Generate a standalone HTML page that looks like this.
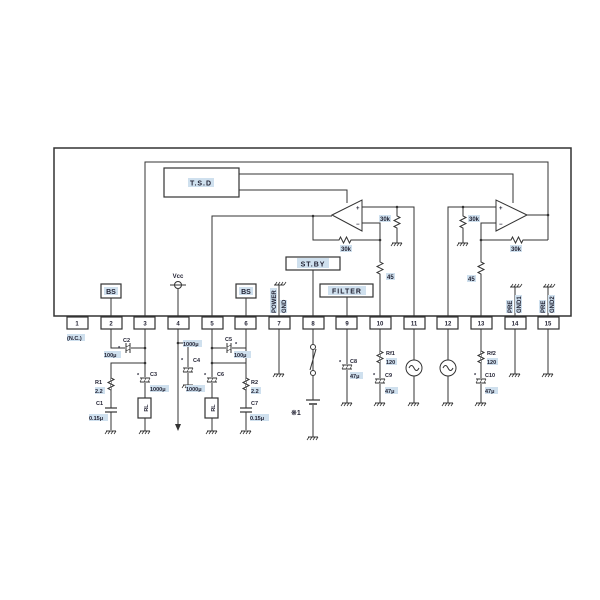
<!DOCTYPE html>
<html><head><meta charset="utf-8"><style>
html,body{margin:0;padding:0;background:#fff;}
svg{display:block;}
text{font-family:"Liberation Sans",sans-serif;fill:#223;}
.hl{fill:#cfe0ee;}
</style></head><body>
<svg width="600" height="600" viewBox="0 0 600 600" xmlns="http://www.w3.org/2000/svg">
<defs>
<g id="gnd"><line x1="-5" y1="0" x2="5" y2="0" stroke="#333" stroke-width="1"/><line x1="-4" y1="0" x2="-6" y2="3" stroke="#333" stroke-width="0.8"/><line x1="-1" y1="0" x2="-3" y2="3" stroke="#333" stroke-width="0.8"/><line x1="2" y1="0" x2="0" y2="3" stroke="#333" stroke-width="0.8"/><line x1="5" y1="0" x2="3" y2="3" stroke="#333" stroke-width="0.8"/></g>
<g id="gndu"><line x1="-5" y1="0" x2="5" y2="0" stroke="#333" stroke-width="1"/><line x1="-4" y1="0" x2="-2" y2="-3" stroke="#333" stroke-width="0.8"/><line x1="-1" y1="0" x2="1" y2="-3" stroke="#333" stroke-width="0.8"/><line x1="2" y1="0" x2="4" y2="-3" stroke="#333" stroke-width="0.8"/><line x1="5" y1="0" x2="7" y2="-3" stroke="#333" stroke-width="0.8"/></g>
<g id="resv"><polyline points="0,-8 0,-6 3,-4.5 -3,-1.5 3,1.5 -3,4.5 0,6 0,8" fill="#fff" stroke="#333" stroke-width="1"/></g>
<g id="resh"><polyline points="-8,0 -6,0 -4.5,-3 -1.5,3 1.5,-3 4.5,3 6,0 8,0" fill="#fff" stroke="#333" stroke-width="1"/></g>
<g id="ecap"><rect x="-6" y="-3" width="12" height="6" fill="#fff"/><line x1="-5" y1="-2" x2="5" y2="-2" stroke="#333"/><line x1="-5" y1="2" x2="5" y2="2" stroke="#333"/><line x1="-5" y1="2" x2="-3" y2="-2" stroke="#333" stroke-width="0.6"/><line x1="-1" y1="2" x2="1" y2="-2" stroke="#333" stroke-width="0.6"/><line x1="3" y1="2" x2="5" y2="-2" stroke="#333" stroke-width="0.6"/></g>
<g id="capv"><rect x="-6" y="-2" width="12" height="4" fill="#fff"/><line x1="-6" y1="-2" x2="6" y2="-2" stroke="#333" stroke-width="1.2"/><line x1="-6" y1="2" x2="6" y2="2" stroke="#333" stroke-width="1.2"/></g>
<g id="capeh"><rect x="-3" y="-6" width="6" height="12" fill="#fff"/><line x1="-2" y1="-5" x2="-2" y2="5" stroke="#333"/><line x1="2" y1="-5" x2="2" y2="5" stroke="#333"/><line x1="-2" y1="3" x2="2" y2="1" stroke="#333" stroke-width="0.6"/><line x1="-2" y1="-1" x2="2" y2="-3" stroke="#333" stroke-width="0.6"/></g>
</defs>
<g stroke="#333" stroke-width="1" fill="none">
<rect x="54" y="148" width="517" height="168" stroke-width="1.5"/>
<rect x="164" y="168" width="75" height="29" stroke-width="1.2"/>
<polyline points="145,316 145,162 548,162 548,240"/>
<polyline points="239,174 513,174 513,203"/>
<polyline points="239,190 347,190 347,203"/>
<polygon points="332,215 362,200 362,231" fill="#fff"/>
<polyline points="212,316 212,216 332,216"/>
<polyline points="313,216 313,240 337,240"/>
<polyline points="353,240 380,240"/>
<polyline points="362,223 380,223 380,260"/>
<polyline points="380,276 380,316"/>
<polyline points="362,207 414,207 414,316"/>
<polyline points="397,207 397,214"/><polyline points="397,230 397,243"/>
<polygon points="527,215 496,200 496,231" fill="#fff"/>
<polyline points="527,215 548,215"/>
<polyline points="496,207 448,207 448,316"/>
<polyline points="463,207 463,214"/><polyline points="463,230 463,243"/>
<polyline points="496,223 481,223 481,260"/>
<polyline points="481,276 481,316"/>
<polyline points="481,240 509,240"/><polyline points="525,240 548,240"/>
<rect x="286" y="257" width="54" height="13" stroke-width="1.2"/>
<line x1="313" y1="270" x2="313" y2="316"/>
<rect x="320" y="284" width="53" height="13" stroke-width="1.2"/>
<line x1="347" y1="297" x2="347" y2="316"/>
<rect x="101" y="284" width="20" height="14" stroke-width="1.2"/>
<line x1="111" y1="298" x2="111" y2="316"/>
<rect x="236" y="284" width="20" height="14" stroke-width="1.2"/>
<line x1="246" y1="298" x2="246" y2="316"/>
<line x1="178" y1="289" x2="178" y2="316"/><circle cx="178" cy="285" r="3.5" fill="#fff"/><line x1="170" y1="285" x2="186" y2="285"/>
<line x1="279" y1="285" x2="279" y2="316"/>
<line x1="515" y1="287" x2="515" y2="316"/>
<line x1="548" y1="287" x2="548" y2="316"/>
</g>
<g fill="#333"><circle cx="313" cy="216" r="1.3"/><circle cx="380" cy="240" r="1.3"/><circle cx="397" cy="207" r="1.3"/><circle cx="463" cy="207" r="1.3"/><circle cx="481" cy="240" r="1.3"/><circle cx="548" cy="215" r="1.3"/></g>
<use href="#resh" x="345" y="240"/><use href="#resh" x="517" y="240"/>
<use href="#resv" x="380" y="268"/><use href="#resv" x="481" y="268"/>
<use href="#resv" x="397" y="222"/><use href="#resv" x="463" y="222"/>
<use href="#gnd" x="397" y="243"/><use href="#gnd" x="463" y="243"/>
<use href="#gndu" x="279" y="285"/><use href="#gndu" x="515" y="287"/><use href="#gndu" x="548" y="287"/>
<g font-size="7" font-weight="bold">
<rect class="hl" x="188" y="178" width="26" height="9"/><text x="201" y="185.5" text-anchor="middle" letter-spacing="1">T.S.D</text>
<rect class="hl" x="297" y="258" width="32" height="10"/><text x="313" y="266.5" text-anchor="middle" letter-spacing="1">ST.BY</text>
<rect class="hl" x="328" y="286" width="38" height="9"/><text x="347" y="293.5" text-anchor="middle" letter-spacing="1">FILTER</text>
<rect class="hl" x="104" y="287" width="14" height="8"/><text x="111" y="294" text-anchor="middle">BS</text>
<rect class="hl" x="239" y="287" width="14" height="8"/><text x="246" y="294" text-anchor="middle">BS</text>
</g>
<g font-size="6" font-weight="bold">
<text x="178" y="278" text-anchor="middle">Vcc</text>
<text x="356" y="210">+</text><text x="356" y="226">−</text>
<text x="499" y="210">+</text><text x="499" y="226">−</text>
<rect class="hl" x="379" y="215" width="12" height="7"/><text x="380" y="221">30k</text>
<rect class="hl" x="340" y="245" width="12" height="7"/><text x="341" y="251">30k</text>
<rect class="hl" x="468" y="215" width="12" height="7"/><text x="469" y="221">30k</text>
<rect class="hl" x="510" y="245" width="12" height="7"/><text x="511" y="251">30k</text>
<rect class="hl" x="386" y="273" width="9" height="7"/><text x="387" y="279">45</text>
<rect class="hl" x="467" y="275" width="9" height="7"/><text x="468" y="281">45</text>
<g transform="translate(276,313) rotate(-90)"><rect class="hl" x="0" y="-6" width="25" height="7"/><text x="0">POWER</text></g>
<g transform="translate(286,313) rotate(-90)"><rect class="hl" x="0" y="-6" width="13" height="7"/><text x="0">GND</text></g>
<g transform="translate(512,313) rotate(-90)"><rect class="hl" x="0" y="-6" width="13" height="7"/><text x="0">PRE</text></g>
<g transform="translate(521,313) rotate(-90)"><rect class="hl" x="0" y="-6" width="18" height="7"/><text x="0">GND1</text></g>
<g transform="translate(545,313) rotate(-90)"><rect class="hl" x="0" y="-6" width="13" height="7"/><text x="0">PRE</text></g>
<g transform="translate(554,313) rotate(-90)"><rect class="hl" x="0" y="-6" width="18" height="7"/><text x="0">GND2</text></g>
</g>
<g stroke="#333" stroke-width="1.2" fill="#fff">
<rect x="67" y="317" width="21" height="12"/><rect x="101" y="317" width="21" height="12"/><rect x="134" y="317" width="21" height="12"/><rect x="168" y="317" width="21" height="12"/><rect x="202" y="317" width="21" height="12"/><rect x="235" y="317" width="21" height="12"/><rect x="269" y="317" width="21" height="12"/><rect x="303" y="317" width="21" height="12"/><rect x="336" y="317" width="21" height="12"/><rect x="370" y="317" width="21" height="12"/><rect x="404" y="317" width="21" height="12"/><rect x="437" y="317" width="21" height="12"/><rect x="471" y="317" width="21" height="12"/><rect x="505" y="317" width="21" height="12"/><rect x="538" y="317" width="21" height="12"/>
</g>
<g font-size="6" font-weight="bold" text-anchor="middle">
<text x="77" y="325.5">1</text><text x="111" y="325.5">2</text><text x="145" y="325.5">3</text><text x="178" y="325.5">4</text><text x="212" y="325.5">5</text><text x="246" y="325.5">6</text><text x="279" y="325.5">7</text><text x="313" y="325.5">8</text><text x="347" y="325.5">9</text><text x="380" y="325.5">10</text><text x="414" y="325.5">11</text><text x="448" y="325.5">12</text><text x="481" y="325.5">13</text><text x="515" y="325.5">14</text><text x="548" y="325.5">15</text>
</g>
<g stroke="#333" stroke-width="1" fill="none">
<polyline points="111,329 111,348 145,348"/>
<line x1="145" y1="329" x2="145" y2="398"/>
<polyline points="145,363 111,363 111,430"/>
<rect x="138" y="398" width="13" height="20" stroke-width="1.2"/><line x1="145" y1="418" x2="145" y2="431"/>
<line x1="178" y1="329" x2="178" y2="425"/><polyline points="178,343 188,343 188,385"/>
<line x1="212" y1="329" x2="212" y2="398"/>
<rect x="205" y="398" width="13" height="20" stroke-width="1.2"/><line x1="212" y1="418" x2="212" y2="431"/>
<polyline points="212,348 246,348"/><line x1="246" y1="329" x2="246" y2="430"/>
<polyline points="212,363 246,363"/>
<line x1="279" y1="329" x2="279" y2="374"/>
<line x1="313" y1="329" x2="313" y2="344"/><line x1="313" y1="350" x2="313" y2="371"/><line x1="313" y1="376" x2="313" y2="437"/>
<circle cx="313" cy="347" r="2.5" fill="#fff"/><circle cx="313" cy="373" r="2.5" fill="#fff"/>
<line x1="316" y1="349" x2="310" y2="370"/>
<line x1="347" y1="329" x2="347" y2="403"/>
<line x1="380" y1="329" x2="380" y2="403"/>
<line x1="414" y1="329" x2="414" y2="403"/><circle cx="414" cy="368" r="8" fill="#fff"/>
<line x1="448" y1="329" x2="448" y2="403"/><circle cx="448" cy="368" r="8" fill="#fff"/>
<line x1="481" y1="329" x2="481" y2="403"/>
<line x1="515" y1="329" x2="515" y2="374"/>
<line x1="548" y1="329" x2="548" y2="374"/>
<path d="M409,368 q2.5,-5 5,0 t5,0"/><path d="M443,368 q2.5,-5 5,0 t5,0"/>
</g>
<polygon points="175,424 181,424 178,431" fill="#333"/>
<g fill="#333"><circle cx="145" cy="348" r="1.3"/><circle cx="145" cy="363" r="1.3"/><circle cx="178" cy="343" r="1.3"/><circle cx="212" cy="348" r="1.3"/><circle cx="212" cy="363" r="1.3"/></g>
<rect x="306" y="400" width="14" height="5" fill="#fff"/>
<line x1="306" y1="400" x2="320" y2="400" stroke="#333" stroke-width="1.2"/><line x1="309" y1="404" x2="317" y2="404" stroke="#333" stroke-width="1.5"/>
<use href="#capeh" x="128" y="348"/><use href="#capeh" x="229" y="348"/>
<use href="#ecap" x="145" y="380"/><use href="#ecap" x="212" y="380"/><use href="#ecap" x="188" y="370"/>
<use href="#ecap" x="347" y="367"/><use href="#ecap" x="380" y="381"/><use href="#ecap" x="481" y="381"/>
<use href="#resv" x="111" y="384"/><use href="#resv" x="246" y="384"/>
<use href="#resv" x="380" y="357"/><use href="#resv" x="481" y="357"/>
<use href="#capv" x="111" y="410"/><use href="#capv" x="246" y="410"/>
<use href="#gnd" x="111" y="431"/><use href="#gnd" x="145" y="431"/><use href="#gnd" x="212" y="431"/><use href="#gnd" x="246" y="431"/>
<use href="#gnd" x="188" y="385"/><use href="#gnd" x="279" y="374"/><use href="#gnd" x="313" y="437"/>
<use href="#gnd" x="347" y="403"/><use href="#gnd" x="380" y="403"/><use href="#gnd" x="414" y="403"/><use href="#gnd" x="448" y="403"/><use href="#gnd" x="481" y="403"/>
<use href="#gnd" x="515" y="374"/><use href="#gnd" x="548" y="374"/>
<g font-size="5.5" font-weight="bold">
<rect class="hl" x="67" y="334" width="18" height="7"/><text x="67" y="340">(N.C.)</text>
<text x="123" y="342">C2</text><text x="118" y="350">*</text>
<rect class="hl" x="104" y="351" width="17" height="7"/><text x="104" y="357">100μ</text>
<text x="95" y="384">R1</text><rect class="hl" x="95" y="387" width="10" height="7"/><text x="95" y="393">2.2</text>
<text x="96" y="405">C1</text><rect class="hl" x="89" y="414" width="19" height="7"/><text x="89" y="420">0.15μ</text>
<text x="137" y="377">*</text><text x="150" y="376">C3</text>
<rect class="hl" x="150" y="385" width="19" height="7"/><text x="150" y="391">1000μ</text>
<text x="145" y="411" transform="rotate(-90 145 408)" text-anchor="middle">RL</text>
<text x="212" y="411" transform="rotate(-90 212 408)" text-anchor="middle">RL</text>
<rect class="hl" x="183" y="340" width="19" height="7"/><text x="183" y="346">1000μ</text>
<text x="181" y="362">*</text><text x="193" y="362">C4</text>
<rect class="hl" x="186" y="385" width="19" height="7"/><text x="186" y="391">1000μ</text>
<text x="204" y="377">*</text><text x="217" y="376">C6</text>
<text x="225" y="341">C5</text><text x="235" y="346">*</text>
<rect class="hl" x="234" y="351" width="17" height="7"/><text x="234" y="357">100μ</text>
<text x="251" y="384">R2</text><rect class="hl" x="251" y="387" width="10" height="7"/><text x="251" y="393">2.2</text>
<text x="251" y="405">C7</text><rect class="hl" x="250" y="414" width="19" height="7"/><text x="250" y="420">0.15μ</text>
<text x="291" y="415" font-size="7">※1</text>
<text x="339" y="364">*</text><text x="350" y="363">C8</text><rect class="hl" x="350" y="372" width="13" height="7"/><text x="350" y="378">47μ</text>
<text x="386" y="355">Rf1</text><rect class="hl" x="386" y="358" width="11" height="7"/><text x="386" y="364">120</text>
<text x="373" y="377">*</text><text x="385" y="377">C9</text><rect class="hl" x="385" y="387" width="13" height="7"/><text x="385" y="393">47μ</text>
<text x="487" y="355">Rf2</text><rect class="hl" x="487" y="358" width="11" height="7"/><text x="487" y="364">120</text>
<text x="474" y="377">*</text><text x="485" y="377">C10</text><rect class="hl" x="485" y="387" width="13" height="7"/><text x="485" y="393">47μ</text>
</g>
</svg>
</body></html>
